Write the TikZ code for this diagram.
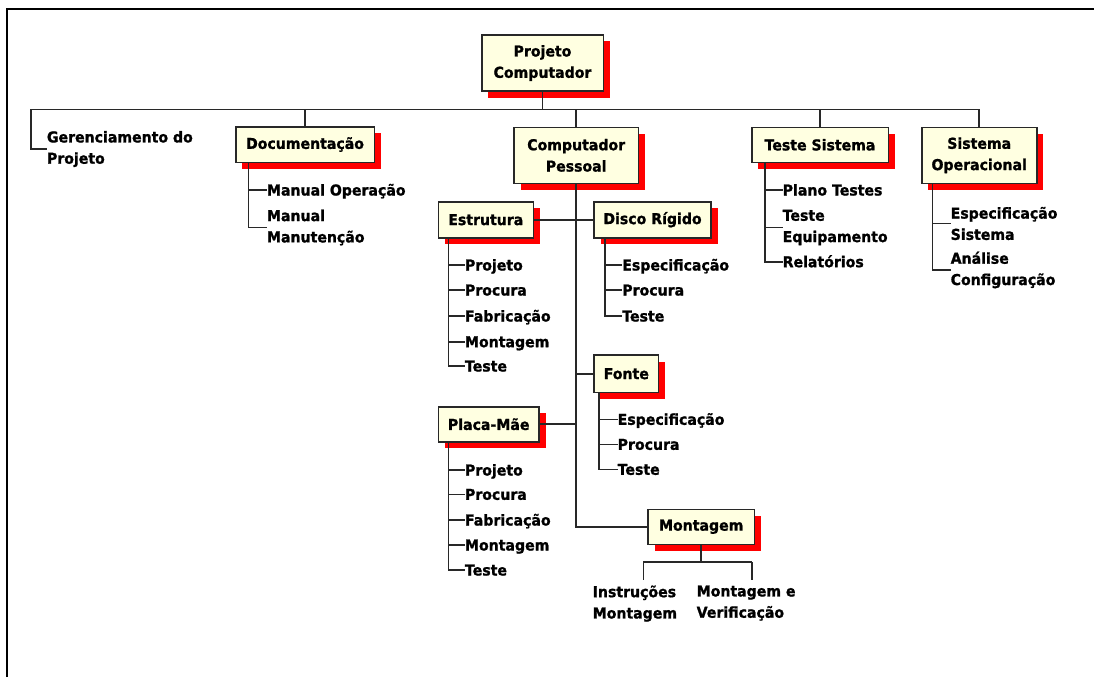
\documentclass[tikz,border=0pt]{standalone}
\usepackage{fontspec}
\setmainfont{DejaVu Sans}[FakeStretch=0.94, BoldFeatures={FakeBold=1.2}]
\usetikzlibrary{shadows,calc}
\definecolor{cream}{RGB}{255,255,225}
\definecolor{lncol}{RGB}{40,40,40}
\begin{document}
\begin{tikzpicture}[x=1pt,y=-1pt,
  every node/.style={font=\bfseries\fontsize{15}{21.3}\selectfont},
  box/.style={draw=lncol, line width=1.6pt, fill=cream, align=center, inner sep=2pt,
    drop shadow={shadow xshift=6.5pt, shadow yshift=-6.5pt, fill=red, opacity=1, draw=none}},
  leaf/.style={anchor=west, inner sep=0pt, outer sep=0pt, align=left},
  leafone/.style={leaf, text height=11pt, text depth=0pt},
  conn/.style={draw=lncol, line width=1.6pt}
]
\useasboundingbox (0,0) rectangle (1094,677);
\draw[line width=2.2pt] (6.7,677) -- (6.7,9) -- (1094,9);

% boxes
\node[box, minimum width=121.6pt, minimum height=56pt] (proj) at (542.5,63) {Projeto\\Computador};
\node[box, minimum width=138.6pt, minimum height=35.6pt] (doc) at (305,144.5) {Documentação};
\node[box, minimum width=124.3pt, minimum height=56pt] (cp) at (576.2,155.3) {Computador\\Pessoal};
\node[box, minimum width=136.6pt, minimum height=35pt] (ts) at (820,144.8) {Teste Sistema};
\node[box, minimum width=115pt, minimum height=56pt] (so) at (979.2,155.3) {Sistema\\Operacional};
\node[box, minimum width=95pt, minimum height=36pt] (est) at (485.8,219.7) {Estrutura};
\node[box, minimum width=117pt, minimum height=36pt] (disco) at (652.5,219.7) {Disco Rígido};
\node[box, minimum width=64.7pt, minimum height=37.3pt] (fonte) at (626.3,373.7) {Fonte};
\node[box, minimum width=100.7pt, minimum height=35pt] (placa) at (488.7,424.2) {Placa-Mãe};
\node[box, minimum width=106.3pt, minimum height=35pt] (mont) at (701.2,526.8) {Montagem};

% leaves
\node[leaf] (gp) at (47,149) {Gerenciamento do\\Projeto};
\node[leafone] (dm1) at (267,190) {Manual Operação};
\node[leaf] (dm2) at (267,227.5) {Manual\\Manutenção};

\node[leafone] (e1) at (465,265) {Projeto};
\node[leafone] (e2) at (465,290) {Procura};
\node[leafone] (e3) at (465,316) {Fabricação};
\node[leafone] (e4) at (465,341.7) {Montagem};
\node[leafone] (e5) at (465,366) {Teste};

\node[leafone] (d1) at (622.3,265) {Especificação};
\node[leafone] (d2) at (622.3,290) {Procura};
\node[leafone] (d3) at (622.3,316) {Teste};

\node[leafone] (f1) at (617.7,419.3) {Especificação};
\node[leafone] (f2) at (617.7,444.3) {Procura};
\node[leafone] (f3) at (617.7,469.3) {Teste};

\node[leafone] (p1) at (465,470) {Projeto};
\node[leafone] (p2) at (465,494.3) {Procura};
\node[leafone] (p3) at (465,520) {Fabricação};
\node[leafone] (p4) at (465,545) {Montagem};
\node[leafone] (p5) at (465,570) {Teste};

\node[leafone] (t1) at (782.7,190) {Plano Testes};
\node[leaf] (t2) at (782.7,227.5) {Teste\\Equipamento};
\node[leafone] (t3) at (782.7,261.7) {Relatórios};

\node[leaf] (s1) at (950.7,223.5) {Especificação\\Sistema};
\node[leaf] (s2) at (950.7,270) {Análise\\Configuração};

\node[leaf, anchor=north west] (m1) at (592.7,585.5) {Instruções\\Montagem};
\node[leaf, anchor=north west] (m2) at (696.7,585.5) {Montagem e\\Verificação};

% top bus
\coordinate (busL) at (31,109.3);
\coordinate (busR) at (so.north |- busL);
\draw[conn] (busL) -- (busR);
\draw[conn] (proj.south) -- (proj.south |- busL);
\draw[conn] (busL) |- (gp.west);
\foreach \n in {doc,cp,ts,so} \draw[conn] (\n.north) -- (\n.north |- busL);

% computador pessoal trunk
\draw[conn] (cp.south) |- (mont.west);
\draw[conn] (est.east) -- (disco.west);
\draw[conn] (fonte.west) -- (fonte.west -| cp.south);
\draw[conn] (placa.east) -- (placa.east -| cp.south);

% lists
\coordinate (tDoc) at ([xshift=13.6pt]doc.south west);
\foreach \l in {dm1,dm2} \draw[conn] (tDoc) |- (\l.west);
\coordinate (tEst) at ([xshift=11pt]est.south west);
\foreach \l in {e1,e2,e3,e4,e5} \draw[conn] (tEst) |- (\l.west);
\coordinate (tDis) at ([xshift=12pt]disco.south west);
\foreach \l in {d1,d2,d3} \draw[conn] (tDis) |- (\l.west);
\coordinate (tFon) at ([xshift=6pt]fonte.south west);
\foreach \l in {f1,f2,f3} \draw[conn] (tFon) |- (\l.west);
\coordinate (tPla) at ([xshift=11pt]placa.south west);
\foreach \l in {p1,p2,p3,p4,p5} \draw[conn] (tPla) |- (\l.west);
\coordinate (tTs) at ([xshift=14.3pt]ts.south west);
\foreach \l in {t1,t2,t3} \draw[conn] (tTs) |- (\l.west);
\coordinate (tSo) at ([xshift=11.6pt]so.south west);
\foreach \l in {s1,s2} \draw[conn] (tSo) |- (\l.west);

% montagem children
\coordinate (mj) at ([yshift=-17.7pt]mont.south);
\coordinate (mjl) at (643.3,562);
\coordinate (mjr) at (751.7,562);
\draw[conn] (mont.south) -- (mj);
\draw[conn] (mjl) -- (mjr);
\draw[conn] (mjl) -- ($(mjl |- m1.north)+(0,-6)$);
\draw[conn] (mjr) -- ($(mjr |- m2.north)+(0,-6)$);
\end{tikzpicture}
\end{document}
